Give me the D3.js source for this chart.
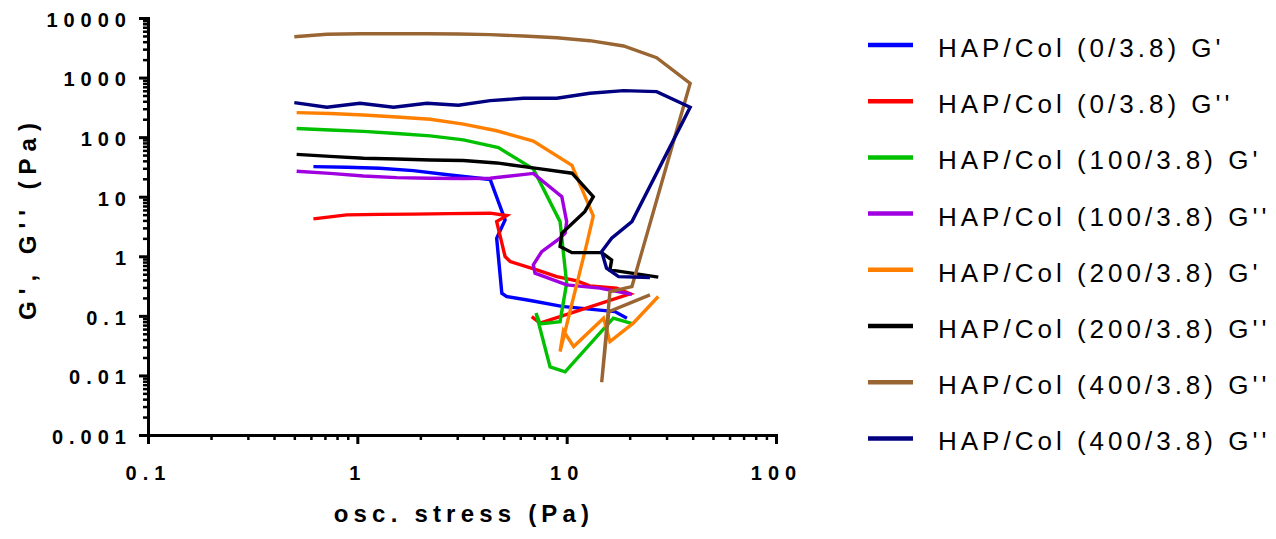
<!DOCTYPE html>
<html>
<head>
<meta charset="utf-8">
<script src="https://cdn.jsdelivr.net/npm/d3@7"></script>
<style>
    body { margin: 0; background: #fff; }
    svg { display: block; }
    .axis path, .axis line { stroke: #000; }
    .tickLabel { font-family: "Liberation Sans", Arial, sans-serif; font-weight: bold; font-size: 20px; letter-spacing: 6px; fill: #000; }
    .axisTitle { font-family: "Liberation Sans", Arial, sans-serif; font-weight: bold; font-size: 24px; letter-spacing: 5.2px; fill: #000; }
    .legendText { font-family: "Liberation Sans", Arial, sans-serif; font-size: 26px; letter-spacing: 4px; fill: #000; }
</style>
</head>
<body>
<script>
//anonymous function to wrap script
(function(){

    //series data, [osc. stress (Pa), modulus (Pa)]
    var col0Gp = [[0.617,32.0],[0.889,31.3],[1.28,30.1],[1.85,27.4],[2.77,23.2],[4.31,19.5],[5.08,4.08],[4.63,2.01],[4.90,0.24],[5.17,0.211],[6.81,0.179],[9.48,0.144],[17.0,0.118],[19.4,0.0915]];
    var col0Gpp = [[0.617,4.24],[0.889,4.95],[1.28,5.05],[1.85,5.1],[2.77,5.2],[4.31,5.29],[5.17,4.82],[4.63,3.82],[5.08,0.99],[5.37,0.815],[7.2,0.59],[8.97,0.456],[11.2,0.386],[12.9,0.319],[17.3,0.292],[20.1,0.234],[7.46,0.0755],[6.81,0.0973]];
    var col100Gp = [[0.513,140],[0.741,132],[1.07,125],[1.54,115],[2.23,105],[3.21,89.8],[4.72,66.7],[6.93,29.3],[9.3,3.82],[10.0,0.354],[9.3,0.080],[7.46,0.0734],[7.14,0.111],[8.33,0.0139],[9.83,0.0115],[16.7,0.0915],[20.8,0.0734]];
    var col100Gpp = [[0.513,26.8],[0.741,24.6],[1.07,22.3],[1.54,20.9],[2.23,20.4],[3.21,20.2],[4.31,20.4],[6.93,24.6],[9.48,10.0],[10.0,3.82],[9.83,2.44],[9.3,2.01],[7.6,1.20],[6.93,0.717],[7.06,0.52],[10.0,0.331],[14.4,0.292],[20.5,0.23]];
    var col200Gp = [[0.513,258],[0.741,250],[1.07,236],[1.54,218],[2.23,200],[3.21,165],[4.63,128],[6.93,86],[10.6,33.5],[13.4,4.76],[12.5,1.66],[9.3,0.0252],[9.65,0.056],[10.8,0.0306],[15.0,0.0915],[16.1,0.037],[20.8,0.0755],[27.4,0.211]];
    var col200Gpp = [[0.513,51.3],[0.741,47.5],[1.07,44.3],[1.54,43],[2.23,41.4],[3.21,40.6],[4.63,36.9],[7.2,29.9],[10.6,24.8],[13.4,10.0],[12.2,5.62],[9.48,2.44],[9.3,1.46],[10.6,1.15],[14.7,1.15],[16.4,0.87],[16.1,0.59],[27.4,0.446]];
    var col400aGpp = [[0.50,4850],[0.715,5330],[1.03,5450],[1.49,5450],[2.15,5450],[3.04,5400],[4.31,5250],[6.21,5000],[8.97,4670],[12.9,4160],[18.7,3390],[26.9,2160],[38.9,802],[20.5,0.31],[16.1,0.256],[14.7,0.0077],[15.9,0.118],[25.0,0.225]];
    var col400bGpp = [[0.50,379],[0.715,318],[1.03,371],[1.49,318],[2.15,371],[3.04,343],[4.31,410],[6.21,450],[8.97,450],[12.9,545],[18.7,603],[26.9,580],[38.9,318],[20.5,3.82],[16.4,2.01],[14.7,1.20],[15.5,0.63],[17.7,0.456],[25.0,0.44]];

    var seriesNames = ["HAP/Col (0/3.8) G'", "HAP/Col (0/3.8) G''", "HAP/Col (100/3.8) G'", "HAP/Col (100/3.8) G''",
                       "HAP/Col (200/3.8) G'", "HAP/Col (200/3.8) G''", "HAP/Col (400/3.8) G''", "HAP/Col (400/3.8) G''"];
    var seriesColors = ["#0000ff", "#ff0000", "#00c000", "#a000e0", "#ff8000", "#000000", "#996633", "#000080"];
    var seriesData = [col0Gp, col0Gpp, col100Gp, col100Gpp, col200Gp, col200Gpp, col400aGpp, col400bGpp];

    //tick labels
    var xTicks = [0.1, 1, 10, 100],
        xTickLabels = ["0.1", "1", "10", "100"];
    var yTicks = [0.001, 0.01, 0.1, 1, 10, 100, 1000, 10000],
        yTickLabels = ["0.001", "0.01", "0.1", "1", "10", "100", "1000", "10000"];

    //begin script when window loads
    window.onload = drawChart();

    function drawChart(){
        var width = 1276,
            height = 539;

        var svg = d3.select("body")
            .append("svg")
            .attr("width", width)
            .attr("height", height);

        //log scales for both axes
        var x = d3.scaleLog().domain([0.1, 100]).range([148, 776]);
        var y = d3.scaleLog().domain([0.001, 10000]).range([435, 18]);

        //minor ticks 2..9 in each decade
        var xMinor = minorTicks(xTicks),
            yMinor = minorTicks(yTicks);

        drawAxes(svg, x, y, xMinor, yMinor);
        drawLines(svg, x, y);
        drawLegend(svg);
    };

    function minorTicks(majors){
        var out = [];
        for (var i=0; i<majors.length-1; i++){
            for (var k=2; k<10; k++){
                out.push(majors[i] * k);
            };
        };
        return out;
    };

    function drawAxes(svg, x, y, xMinor, yMinor){
        //minor ticks first, no labels
        svg.append("g")
            .attr("class", "axis")
            .attr("transform", "translate(0,435)")
            .call(d3.axisBottom(x).tickValues(xMinor).tickSize(5).tickSizeOuter(0).tickFormat(""))
            .call(function(g){ g.select(".domain").remove(); })
            .selectAll("line").attr("stroke-width", 2.5);

        svg.append("g")
            .attr("class", "axis")
            .attr("transform", "translate(148,0)")
            .call(d3.axisLeft(y).tickValues(yMinor).tickSize(5).tickSizeOuter(0).tickFormat(""))
            .call(function(g){ g.select(".domain").remove(); })
            .selectAll("line").attr("stroke-width", 2.5);

        //major x axis
        var xAxis = svg.append("g")
            .attr("class", "axis")
            .attr("transform", "translate(0,435)")
            .call(d3.axisBottom(x).tickValues(xTicks).tickSize(9).tickSizeOuter(0)
                .tickFormat(function(d, i){ return xTickLabels[i]; }));
        xAxis.select(".domain").attr("stroke-width", 3).attr("stroke-linecap", "square");
        xAxis.selectAll("line").attr("stroke-width", 3);
        xAxis.selectAll("text")
            .attr("class", "tickLabel")
            .attr("y", 45)
            .attr("dy", 0)
            .attr("font-size", null)
            .attr("font-family", null);

        //major y axis
        var yAxis = svg.append("g")
            .attr("class", "axis")
            .attr("transform", "translate(148,0)")
            .call(d3.axisLeft(y).tickValues(yTicks).tickSize(9).tickSizeOuter(0)
                .tickFormat(function(d, i){ return yTickLabels[i]; }));
        yAxis.select(".domain").attr("stroke-width", 3).attr("stroke-linecap", "square");
        yAxis.selectAll("line").attr("stroke-width", 3);
        yAxis.selectAll("text")
            .attr("class", "tickLabel")
            .attr("x", -16)
            .attr("dy", "0.42em")
            .attr("font-size", null)
            .attr("font-family", null);

        //axis titles
        svg.append("text")
            .attr("class", "axisTitle")
            .attr("x", 464)
            .attr("y", 522)
            .attr("text-anchor", "middle")
            .text("osc. stress (Pa)");

        svg.append("text")
            .attr("class", "axisTitle")
            .attr("transform", "translate(36,218) rotate(-90)")
            .attr("text-anchor", "middle")
            .style("letter-spacing", "7px")
            .text("G', G'' (Pa)");
    };

    function drawLines(svg, x, y){
        var line = d3.line()
            .x(function(d){ return x(d[0]); })
            .y(function(d){ return y(d[1]); });

        svg.selectAll(".series")
            .data(seriesData)
            .enter()
            .append("path")
            .attr("class", "series")
            .attr("fill", "none")
            .attr("stroke", function(d, i){ return seriesColors[i]; })
            .attr("stroke-width", 3.4)
            .attr("d", line);
    };

    function drawLegend(svg){
        var items = svg.selectAll(".legendItem")
            .data(seriesNames)
            .enter()
            .append("g")
            .attr("class", "legendItem")
            .attr("transform", function(d, i){ return "translate(0," + (45 + i * 56.2) + ")"; });

        items.append("line")
            .attr("x1", 868)
            .attr("x2", 913)
            .attr("stroke", function(d, i){ return seriesColors[i]; })
            .attr("stroke-width", 4.5);

        items.append("text")
            .attr("class", "legendText")
            .attr("x", 938)
            .attr("y", 12)
            .text(function(d){ return d; });
    };

})();
</script>
</body>
</html>
